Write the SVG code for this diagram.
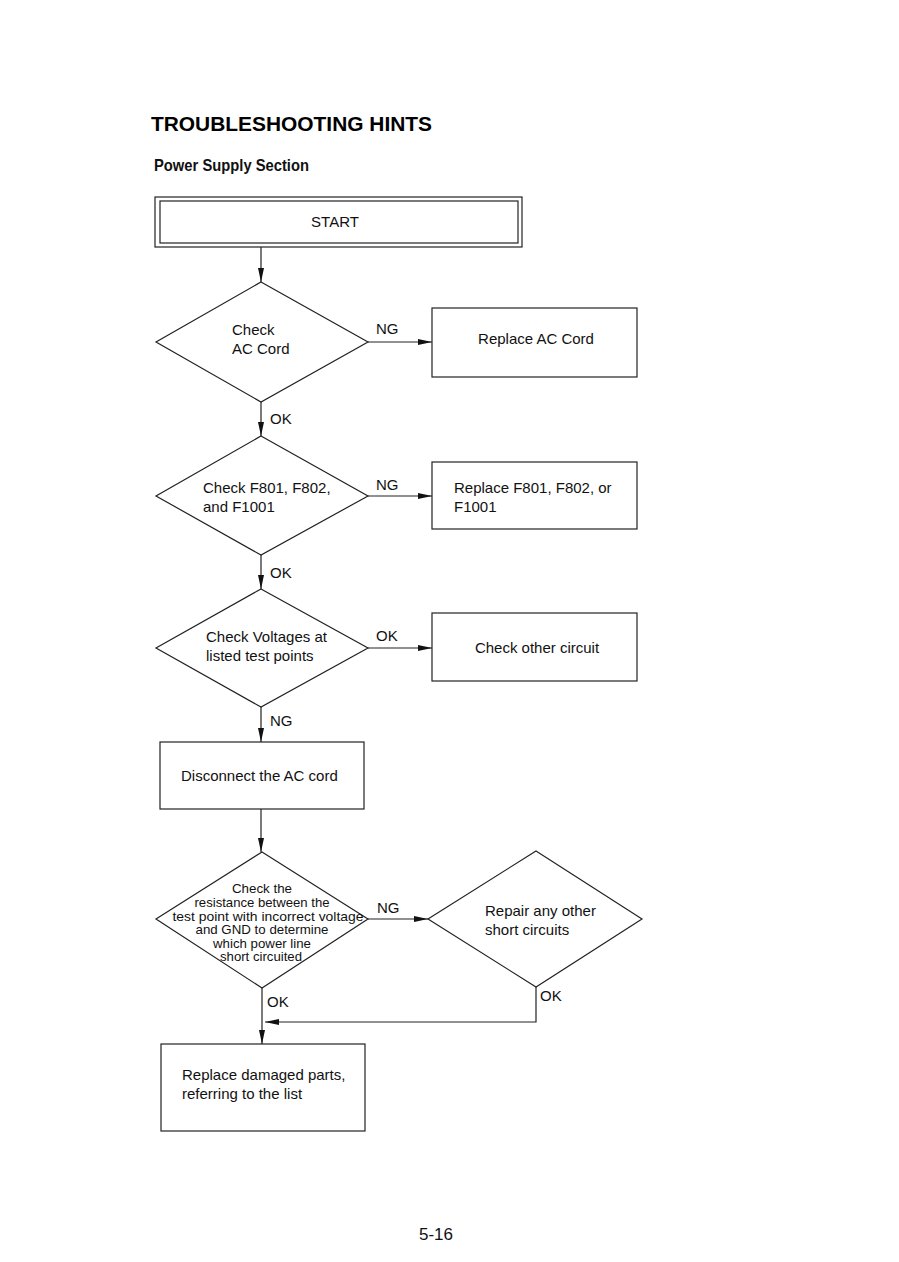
<svg xmlns="http://www.w3.org/2000/svg" width="899" height="1262" viewBox="0 0 899 1262">
<style>
.shape{fill:#fff;stroke:#222;stroke-width:1.2}
.line{fill:none;stroke:#222;stroke-width:1.2}
.t{font-family:"Liberation Sans",Arial,sans-serif;font-size:15px;fill:#111}
.s{font-family:"Liberation Sans",Arial,sans-serif;font-size:13.5px;fill:#111}
.title{font-family:"Liberation Sans",Arial,sans-serif;font-size:21px;font-weight:bold;fill:#000}
.sub{font-family:"Liberation Sans",Arial,sans-serif;font-size:17px;font-weight:bold;fill:#111}
</style>
<defs>
<marker id="arr" markerUnits="userSpaceOnUse" markerWidth="14" markerHeight="6" refX="14" refY="3" orient="auto">
<path d="M0,0 L14,3 L0,6 z" fill="#111"/>
</marker>
</defs>
<rect width="899" height="1262" fill="#fff"/>
<text class="title" x="151" y="131" textLength="281" lengthAdjust="spacingAndGlyphs">TROUBLESHOOTING HINTS</text>
<text class="sub" x="154" y="171" textLength="155" lengthAdjust="spacingAndGlyphs">Power Supply Section</text>

<g id="connectors">
<line class="line" x1="261" y1="247" x2="261" y2="282" marker-end="url(#arr)"/>
<line class="line" x1="368" y1="342" x2="432" y2="342" marker-end="url(#arr)"/>
<line class="line" x1="261" y1="402" x2="261" y2="436" marker-end="url(#arr)"/>
<line class="line" x1="368" y1="496" x2="432" y2="496" marker-end="url(#arr)"/>
<line class="line" x1="261" y1="555" x2="261" y2="589" marker-end="url(#arr)"/>
<line class="line" x1="368" y1="648" x2="432" y2="648" marker-end="url(#arr)"/>
<line class="line" x1="261" y1="707" x2="261" y2="742" marker-end="url(#arr)"/>
<line class="line" x1="261" y1="809" x2="261" y2="852" marker-end="url(#arr)"/>
<line class="line" x1="368" y1="919" x2="428" y2="919" marker-end="url(#arr)"/>
<line class="line" x1="262" y1="988" x2="262" y2="1044" marker-end="url(#arr)"/>
<polyline class="line" points="536,987 536,1022 265,1022" marker-end="url(#arr)"/>
<text class="t" x="270" y="424">OK</text>
<text class="t" x="376" y="334">NG</text>
<text class="t" x="376" y="490">NG</text>
<text class="t" x="270" y="578">OK</text>
<text class="t" x="376" y="641">OK</text>
<text class="t" x="270" y="726">NG</text>
<text class="t" x="377" y="913">NG</text>
<text class="t" x="267" y="1007">OK</text>
<text class="t" x="540" y="1001">OK</text>
</g>

<g id="start">
<rect class="shape" x="155" y="197" width="367" height="50"/>
<rect class="shape" x="160" y="201" width="358" height="42"/>
<text class="t" x="335" y="227" text-anchor="middle">START</text>
</g>

<g id="check-ac-cord">
<polygon class="shape" points="261,282 368,342 261,402 156,342"/>
<text class="t" x="232" y="335">Check</text>
<text class="t" x="232" y="354">AC Cord</text>
</g>

<g id="replace-ac-cord">
<rect class="shape" x="432" y="308" width="205" height="69"/>
<text class="t" x="536" y="344" text-anchor="middle">Replace AC Cord</text>
</g>

<g id="check-fuses">
<polygon class="shape" points="261,436 368,496 261,555 156,496"/>
<text class="t" x="203" y="493">Check F801, F802,</text>
<text class="t" x="203" y="512">and F1001</text>
</g>

<g id="replace-fuses">
<rect class="shape" x="432" y="462" width="205" height="67"/>
<text class="t" x="454" y="493">Replace F801, F802, or</text>
<text class="t" x="454" y="512">F1001</text>
</g>

<g id="check-voltages">
<polygon class="shape" points="261,589 368,648 261,707 156,648"/>
<text class="t" x="206" y="642">Check Voltages at</text>
<text class="t" x="206" y="661">listed test points</text>
</g>

<g id="check-other">
<rect class="shape" x="432" y="613" width="205" height="68"/>
<text class="t" x="537" y="653" text-anchor="middle">Check other circuit</text>
</g>

<g id="disconnect">
<rect class="shape" x="160" y="742" width="204" height="67"/>
<text class="t" x="181" y="781">Disconnect the AC cord</text>
</g>

<g id="check-resistance">
<polygon class="shape" points="262,852 368,919 262,988 156,919"/>
<text class="s" x="262" y="893" text-anchor="middle" textLength="60" lengthAdjust="spacingAndGlyphs">Check the</text>
<text class="s" x="262" y="907" text-anchor="middle" textLength="135" lengthAdjust="spacingAndGlyphs">resistance between the</text>
<text class="s" x="268" y="921" text-anchor="middle" textLength="191" lengthAdjust="spacingAndGlyphs">test point with incorrect voltage</text>
<text class="s" x="262" y="934" text-anchor="middle" textLength="133" lengthAdjust="spacingAndGlyphs">and GND to determine</text>
<text class="s" x="262" y="948" text-anchor="middle" textLength="98" lengthAdjust="spacingAndGlyphs">which power line</text>
<text class="s" x="261" y="961" text-anchor="middle" textLength="82" lengthAdjust="spacingAndGlyphs">short circuited</text>
</g>

<g id="repair-shorts">
<polygon class="shape" points="536,851 642,919 536,987 428,919"/>
<text class="t" x="485" y="916">Repair any other</text>
<text class="t" x="485" y="935">short circuits</text>
</g>

<g id="replace-parts">
<rect class="shape" x="161" y="1044" width="204" height="87"/>
<text class="t" x="182" y="1080">Replace damaged parts,</text>
<text class="t" x="182" y="1099">referring to the list</text>
</g>

<text class="t" x="436" y="1240" text-anchor="middle" style="font-size:17px">5-16</text>
</svg>
